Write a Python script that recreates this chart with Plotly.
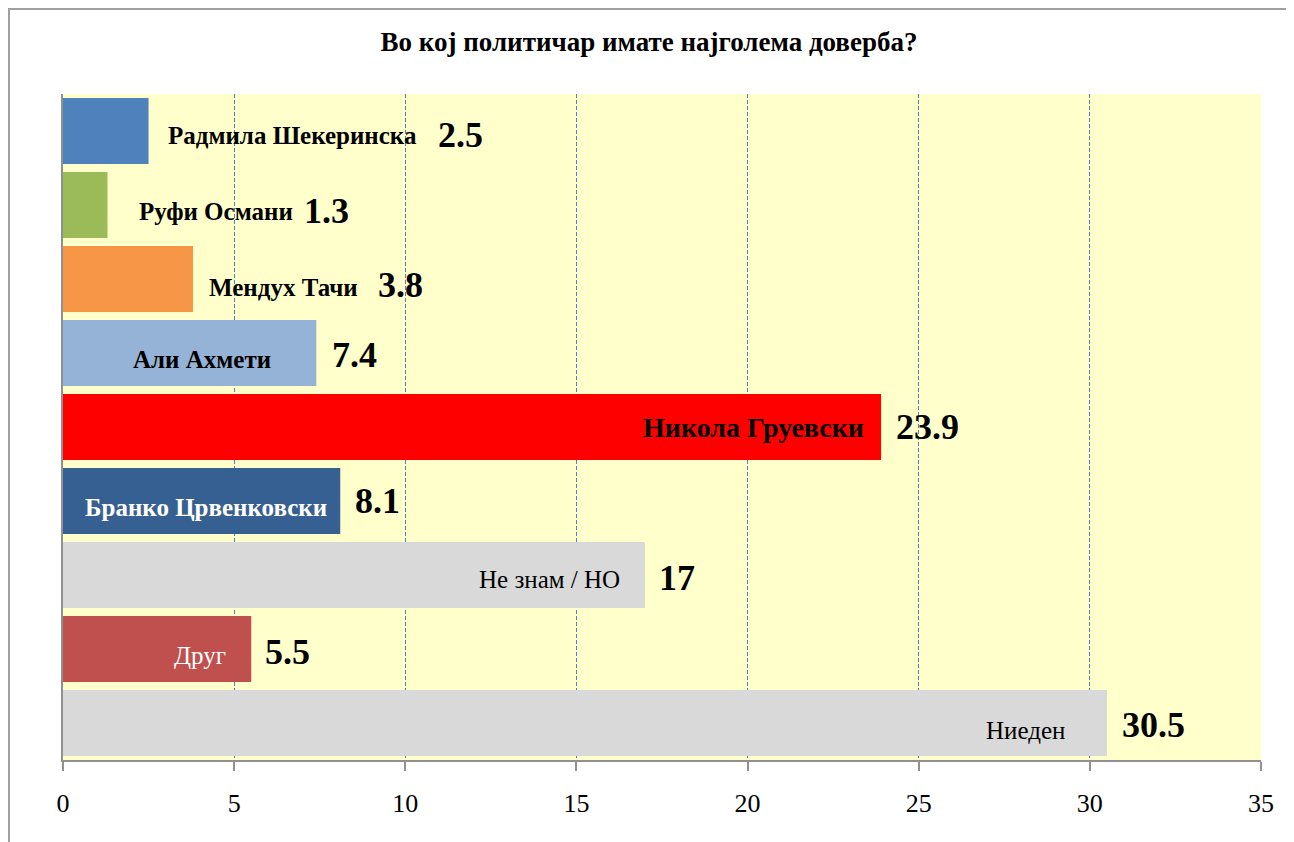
import plotly.graph_objects as go

# Data (top to bottom as in the chart)
names = ["Радмила Шекеринска", "Руфи Османи", "Мендух Тачи", "Али Ахмети",
         "Никола Груевски", "Бранко Црвенковски", "Не знам / НО", "Друг", "Ниеден"]
values = [2.5, 1.3, 3.8, 7.4, 23.9, 8.1, 17, 5.5, 30.5]
value_labels = ["2.5", "1.3", "3.8", "7.4", "23.9", "8.1", "17", "5.5", "30.5"]
tick_vals = [0, 5, 10, 15, 20, 25, 30, 35]
title = "Во кој политичар имате најголема доверба?"

# Styling
colors = ["#4F81BD", "#9BBB59", "#F79646", "#95B3D7", "#FF0000",
          "#376092", "#D9D9D9", "#C0504D", "#D9D9D9"]
name_colors = ["black", "black", "black", "black", "black", "white", "black", "white", "black"]
name_bold = [True, True, True, True, True, True, False, False, False]
name_sizes = [25, 25, 25, 25, 28, 25, 25, 25, 25]
name_xshift = [270, 187, 167, -43, -15, -11, -23, -23, -40]
name_yshift = [-4, -6, -8, -6, 0, -6, -4, -6, -7]
value_xshift = [287, 194, 183, 14, 13, 13, 12, 12, 13]
value_yshift = [-4, -6, -6, -2, 0, 0, -3, -3, -2]

FONT = "Liberation Serif, Times New Roman, serif"
W, H = 1294, 842
OFF = 8  # page offset of the figure div
ML, MR, MT, MB = 63 - OFF, 33 + OFF, 94 - OFF, 82 + OFF

fig = go.Figure()
fig.add_trace(go.Bar(
    x=values, y=names, orientation="h",
    marker=dict(color=colors, line=dict(width=0)),
    hoverinfo="x+y",
))

annotations = []
for i, (n, v) in enumerate(zip(names, values)):
    txt = f"<b>{n}</b>" if name_bold[i] else n
    annotations.append(dict(
        x=v, y=n, xref="x", yref="y", text=txt, showarrow=False,
        xanchor="right", yanchor="middle", xshift=name_xshift[i], yshift=name_yshift[i],
        font=dict(family=FONT, size=name_sizes[i], color=name_colors[i]),
    ))
    annotations.append(dict(
        x=v, y=n, xref="x", yref="y", text=f"<b>{value_labels[i]}</b>", showarrow=False,
        xanchor="left", yanchor="middle", xshift=value_xshift[i], yshift=value_yshift[i],
        font=dict(family=FONT, size=36, color="black"),
    ))

pw = W - ML - MR
ph = H - MT - MB
def fig2paper_x(px):
    return (px - ML) / pw
def fig2paper_y(py):
    return 1 - (py - MT) / ph

shapes = [dict(
    type="rect", xref="paper", yref="paper",
    x0=fig2paper_x(1), x1=fig2paper_x(1279), y0=fig2paper_y(H + 20), y1=fig2paper_y(1),
    line=dict(color="#A0A0A0", width=2), fillcolor="rgba(0,0,0,0)", layer="below",
)]

fig.update_layout(
    width=W, height=H,
    margin=dict(l=ML, r=MR, t=MT, b=MB),
    paper_bgcolor="white",
    plot_bgcolor="#FFFFCC",
    bargap=0.108,
    showlegend=False,
    title=dict(text=f"<b>{title}</b>", x=fig2paper_x(649 - OFF), xref="paper", xanchor="center",
               y=1 - (42 - OFF) / H, yanchor="middle",
               font=dict(family=FONT, size=27, color="black")),
    xaxis=dict(
        range=[0, 35], tickvals=tick_vals, ticktext=[str(t) for t in tick_vals],
        showgrid=True, gridcolor="#4F81BD", griddash="4px,2px", gridwidth=1,
        showline=True, linecolor="#909090", linewidth=2,
        ticks="outside", ticklen=9, tickcolor="#909090", tickwidth=2,
        ticklabelstandoff=10,
        tickfont=dict(family=FONT, size=26, color="black"),
        zeroline=False, fixedrange=True,
    ),
    yaxis=dict(
        autorange="reversed", showticklabels=False, showgrid=False,
        showline=True, linecolor="#909090", linewidth=2, zeroline=False,
        ticks="", fixedrange=True,
    ),
    annotations=annotations,
    shapes=shapes,
)

fig.write_html("out.html")
